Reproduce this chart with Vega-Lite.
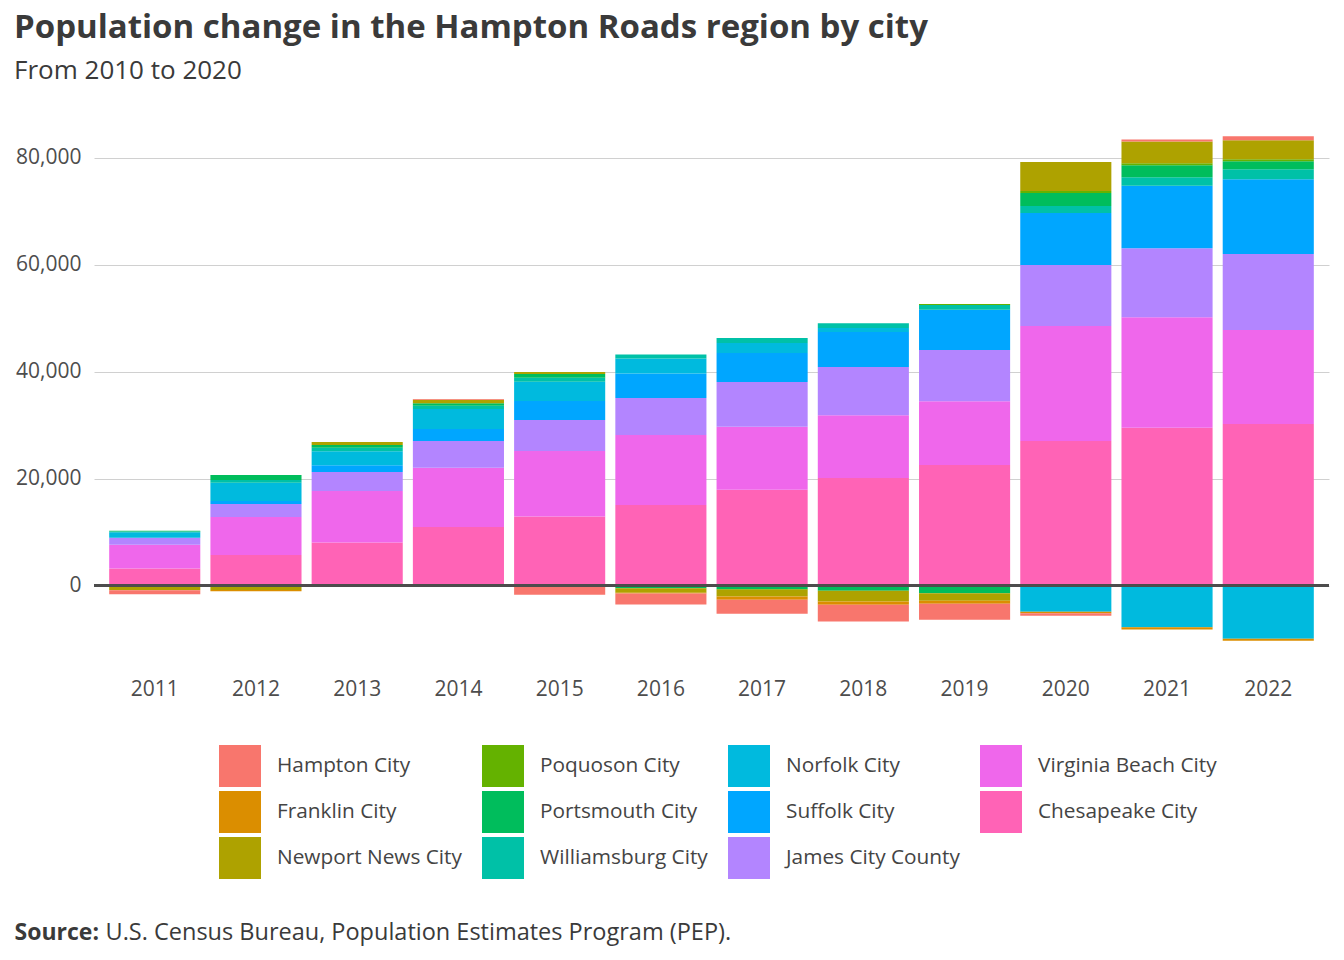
{
  "$schema": "https://vega.github.io/schema/vega-lite/v6.json",
  "width": 1235,
  "height": 555,
  "autosize": {"type": "none"},
  "padding": {"left": 94, "top": 111, "right": 15, "bottom": 294},
  "background": "white",
  "config": {
    "font": "Open Sans",
    "view": {"stroke": null}
  },
  "title": {
    "text": "Population change in the Hampton Roads region by city",
    "subtitle": "From 2010 to 2020",
    "anchor": "start",
    "frame": "group",
    "dx": -80,
    "offset": 27,
    "fontSize": 33,
    "fontWeight": "bold",
    "color": "#3a3a3a",
    "subtitleFontSize": 26,
    "subtitleColor": "#3a3a3a",
    "subtitlePadding": 13
  },
  "data": {
    "values": [
      {"year": "2011", "city": "Chesapeake City", "ord": 1, "change": 3180},
      {"year": "2011", "city": "Virginia Beach City", "ord": 2, "change": 4430},
      {"year": "2011", "city": "James City County", "ord": 3, "change": 1310},
      {"year": "2011", "city": "Norfolk City", "ord": 5, "change": 1070},
      {"year": "2011", "city": "Williamsburg City", "ord": 6, "change": 100},
      {"year": "2011", "city": "Portsmouth City", "ord": 7, "change": 150},
      {"year": "2011", "city": "Newport News City", "ord": 9, "change": -850},
      {"year": "2011", "city": "Franklin City", "ord": 10, "change": -50},
      {"year": "2011", "city": "Hampton City", "ord": 11, "change": -750},

      {"year": "2012", "city": "Chesapeake City", "ord": 1, "change": 5730},
      {"year": "2012", "city": "Virginia Beach City", "ord": 2, "change": 7100},
      {"year": "2012", "city": "James City County", "ord": 3, "change": 2430},
      {"year": "2012", "city": "Suffolk City", "ord": 4, "change": 560},
      {"year": "2012", "city": "Norfolk City", "ord": 5, "change": 3420},
      {"year": "2012", "city": "Williamsburg City", "ord": 6, "change": 500},
      {"year": "2012", "city": "Portsmouth City", "ord": 7, "change": 930},
      {"year": "2012", "city": "Newport News City", "ord": 9, "change": -850},
      {"year": "2012", "city": "Franklin City", "ord": 10, "change": -200},

      {"year": "2013", "city": "Chesapeake City", "ord": 1, "change": 8040},
      {"year": "2013", "city": "Virginia Beach City", "ord": 2, "change": 9660},
      {"year": "2013", "city": "James City County", "ord": 3, "change": 3550},
      {"year": "2013", "city": "Suffolk City", "ord": 4, "change": 1250},
      {"year": "2013", "city": "Norfolk City", "ord": 5, "change": 2600},
      {"year": "2013", "city": "Williamsburg City", "ord": 6, "change": 680},
      {"year": "2013", "city": "Portsmouth City", "ord": 7, "change": 500},
      {"year": "2013", "city": "Newport News City", "ord": 9, "change": 560},

      {"year": "2014", "city": "Chesapeake City", "ord": 1, "change": 10970},
      {"year": "2014", "city": "Virginia Beach City", "ord": 2, "change": 11080},
      {"year": "2014", "city": "James City County", "ord": 3, "change": 4980},
      {"year": "2014", "city": "Suffolk City", "ord": 4, "change": 2240},
      {"year": "2014", "city": "Norfolk City", "ord": 5, "change": 3740},
      {"year": "2014", "city": "Williamsburg City", "ord": 6, "change": 620},
      {"year": "2014", "city": "Portsmouth City", "ord": 7, "change": 450},
      {"year": "2014", "city": "Newport News City", "ord": 9, "change": 670},
      {"year": "2014", "city": "Hampton City", "ord": 11, "change": 120},
      {"year": "2014", "city": "Franklin City", "ord": 10, "change": -200},

      {"year": "2015", "city": "Chesapeake City", "ord": 1, "change": 12900},
      {"year": "2015", "city": "Virginia Beach City", "ord": 2, "change": 12280},
      {"year": "2015", "city": "James City County", "ord": 3, "change": 5790},
      {"year": "2015", "city": "Suffolk City", "ord": 4, "change": 3550},
      {"year": "2015", "city": "Norfolk City", "ord": 5, "change": 3600},
      {"year": "2015", "city": "Williamsburg City", "ord": 6, "change": 750},
      {"year": "2015", "city": "Portsmouth City", "ord": 7, "change": 690},
      {"year": "2015", "city": "Newport News City", "ord": 9, "change": 370},
      {"year": "2015", "city": "Hampton City", "ord": 11, "change": -1700},

      {"year": "2016", "city": "Chesapeake City", "ord": 1, "change": 15080},
      {"year": "2016", "city": "Virginia Beach City", "ord": 2, "change": 13080},
      {"year": "2016", "city": "James City County", "ord": 3, "change": 6920},
      {"year": "2016", "city": "Suffolk City", "ord": 4, "change": 4600},
      {"year": "2016", "city": "Norfolk City", "ord": 5, "change": 2800},
      {"year": "2016", "city": "Williamsburg City", "ord": 6, "change": 750},
      {"year": "2016", "city": "Portsmouth City", "ord": 7, "change": -500},
      {"year": "2016", "city": "Newport News City", "ord": 9, "change": -860},
      {"year": "2016", "city": "Franklin City", "ord": 10, "change": -150},
      {"year": "2016", "city": "Hampton City", "ord": 11, "change": -2060},

      {"year": "2017", "city": "Chesapeake City", "ord": 1, "change": 17900},
      {"year": "2017", "city": "Virginia Beach City", "ord": 2, "change": 11780},
      {"year": "2017", "city": "James City County", "ord": 3, "change": 8410},
      {"year": "2017", "city": "Suffolk City", "ord": 4, "change": 5420},
      {"year": "2017", "city": "Norfolk City", "ord": 5, "change": 1870},
      {"year": "2017", "city": "Williamsburg City", "ord": 6, "change": 930},
      {"year": "2017", "city": "Portsmouth City", "ord": 7, "change": -670},
      {"year": "2017", "city": "Poquoson City", "ord": 8, "change": -130},
      {"year": "2017", "city": "Newport News City", "ord": 9, "change": -1250},
      {"year": "2017", "city": "Franklin City", "ord": 10, "change": -620},
      {"year": "2017", "city": "Hampton City", "ord": 11, "change": -2620},

      {"year": "2018", "city": "Chesapeake City", "ord": 1, "change": 20130},
      {"year": "2018", "city": "Virginia Beach City", "ord": 2, "change": 11700},
      {"year": "2018", "city": "James City County", "ord": 3, "change": 9030},
      {"year": "2018", "city": "Suffolk City", "ord": 4, "change": 6540},
      {"year": "2018", "city": "Norfolk City", "ord": 5, "change": 750},
      {"year": "2018", "city": "Williamsburg City", "ord": 6, "change": 930},
      {"year": "2018", "city": "Portsmouth City", "ord": 7, "change": -990},
      {"year": "2018", "city": "Newport News City", "ord": 9, "change": -2000},
      {"year": "2018", "city": "Franklin City", "ord": 10, "change": -620},
      {"year": "2018", "city": "Hampton City", "ord": 11, "change": -3120},

      {"year": "2019", "city": "Chesapeake City", "ord": 1, "change": 22560},
      {"year": "2019", "city": "Virginia Beach City", "ord": 2, "change": 11900},
      {"year": "2019", "city": "James City County", "ord": 3, "change": 9600},
      {"year": "2019", "city": "Suffolk City", "ord": 4, "change": 7540},
      {"year": "2019", "city": "Williamsburg City", "ord": 6, "change": 870},
      {"year": "2019", "city": "Poquoson City", "ord": 8, "change": 190},
      {"year": "2019", "city": "Portsmouth City", "ord": 7, "change": -1420},
      {"year": "2019", "city": "Newport News City", "ord": 9, "change": -1440},
      {"year": "2019", "city": "Franklin City", "ord": 10, "change": -560},
      {"year": "2019", "city": "Hampton City", "ord": 11, "change": -2990},

      {"year": "2020", "city": "Chesapeake City", "ord": 1, "change": 27050},
      {"year": "2020", "city": "Virginia Beach City", "ord": 2, "change": 21500},
      {"year": "2020", "city": "James City County", "ord": 3, "change": 11400},
      {"year": "2020", "city": "Suffolk City", "ord": 4, "change": 9720},
      {"year": "2020", "city": "Williamsburg City", "ord": 6, "change": 1310},
      {"year": "2020", "city": "Portsmouth City", "ord": 7, "change": 2430},
      {"year": "2020", "city": "Poquoson City", "ord": 8, "change": 370},
      {"year": "2020", "city": "Newport News City", "ord": 9, "change": 5420},
      {"year": "2020", "city": "Norfolk City", "ord": 5, "change": -4900},
      {"year": "2020", "city": "Franklin City", "ord": 10, "change": -300},
      {"year": "2020", "city": "Hampton City", "ord": 11, "change": -450},

      {"year": "2021", "city": "Chesapeake City", "ord": 1, "change": 29500},
      {"year": "2021", "city": "Virginia Beach City", "ord": 2, "change": 20700},
      {"year": "2021", "city": "James City County", "ord": 3, "change": 12900},
      {"year": "2021", "city": "Suffolk City", "ord": 4, "change": 11700},
      {"year": "2021", "city": "Williamsburg City", "ord": 6, "change": 1560},
      {"year": "2021", "city": "Portsmouth City", "ord": 7, "change": 2240},
      {"year": "2021", "city": "Poquoson City", "ord": 8, "change": 370},
      {"year": "2021", "city": "Newport News City", "ord": 9, "change": 4100},
      {"year": "2021", "city": "Hampton City", "ord": 11, "change": 370},
      {"year": "2021", "city": "Norfolk City", "ord": 5, "change": -7780},
      {"year": "2021", "city": "Franklin City", "ord": 10, "change": -450},

      {"year": "2022", "city": "Chesapeake City", "ord": 1, "change": 30200},
      {"year": "2022", "city": "Virginia Beach City", "ord": 2, "change": 17600},
      {"year": "2022", "city": "James City County", "ord": 3, "change": 14200},
      {"year": "2022", "city": "Suffolk City", "ord": 4, "change": 14000},
      {"year": "2022", "city": "Williamsburg City", "ord": 6, "change": 1870},
      {"year": "2022", "city": "Portsmouth City", "ord": 7, "change": 1500},
      {"year": "2022", "city": "Poquoson City", "ord": 8, "change": 370},
      {"year": "2022", "city": "Newport News City", "ord": 9, "change": 3550},
      {"year": "2022", "city": "Hampton City", "ord": 11, "change": 750},
      {"year": "2022", "city": "Norfolk City", "ord": 5, "change": -9960},
      {"year": "2022", "city": "Franklin City", "ord": 10, "change": -370}
    ]
  },
  "layer": [
    {
      "mark": {"type": "bar"},
      "encoding": {
        "x": {
          "field": "year",
          "type": "ordinal",
          "scale": {"paddingInner": 0.1, "paddingOuter": 0.15},
          "axis": {
            "labelAngle": 0,
            "ticks": false,
            "domain": false,
            "grid": false,
            "labelPadding": 12,
            "labelFontSize": 21,
            "labelColor": "#4d4d4d",
            "title": "Source:",
            "titleFontSize": 23,
            "titleFontWeight": "bold",
            "titleColor": "#3a3a3a",
            "titleX": -80,
            "titleY": 273,
            "titleAlign": "left",
            "titleBaseline": "alphabetic",
            "titleAnchor": null
          }
        },
        "y": {
          "field": "change",
          "type": "quantitative",
          "stack": "zero",
          "scale": {"domain": [-15050, 88760], "nice": false, "zero": false},
          "axis": {
            "values": [0, 20000, 40000, 60000, 80000],
            "format": ",d",
            "labelFontSize": 21,
            "labelColor": "#4d4d4d",
            "ticks": false,
            "domain": false,
            "labelPadding": 13,
            "gridColor": "#d0d0d0",
            "gridWidth": 1,
            "title": "U.S. Census Bureau, Population Estimates Program (PEP).",
            "titleFontSize": 23.5,
            "titleFontWeight": "normal",
            "titleColor": "#3a3a3a",
            "titleAngle": 0,
            "titleX": 11,
            "titleY": 828,
            "titleAlign": "left",
            "titleBaseline": "alphabetic",
            "titleAnchor": null
          }
        },
        "color": {
          "field": "city",
          "type": "nominal",
          "scale": {
            "domain": ["Hampton City", "Franklin City", "Newport News City", "Poquoson City", "Portsmouth City", "Williamsburg City", "Norfolk City", "Suffolk City", "James City County", "Virginia Beach City", "Chesapeake City"],
            "range": ["#F8766D", "#DB8E00", "#AEA200", "#64B200", "#00BD5C", "#00C1A7", "#00BADE", "#00A6FF", "#B385FF", "#EF67EB", "#FF63B6"]
          },
          "legend": {
            "orient": "none",
            "legendX": 125,
            "legendY": 634,
            "columns": 4,
            "title": null,
            "padding": 0,
            "symbolType": "square",
            "symbolSize": 1764,
            "symbolStrokeWidth": 0,
            "symbolOpacity": 1,
            "labelFontSize": 20.8,
            "labelColor": "#444444",
            "labelOffset": 16,
            "labelLimit": 400,
            "rowPadding": 4,
            "columnPadding": 20
          }
        },
        "order": {"field": "ord", "type": "quantitative", "sort": "ascending"}
      }
    },
    {
      "mark": {"type": "rule", "color": "#4d4d4d", "strokeWidth": 2},
      "encoding": {"y": {"datum": 0}}
    }
  ]
}
